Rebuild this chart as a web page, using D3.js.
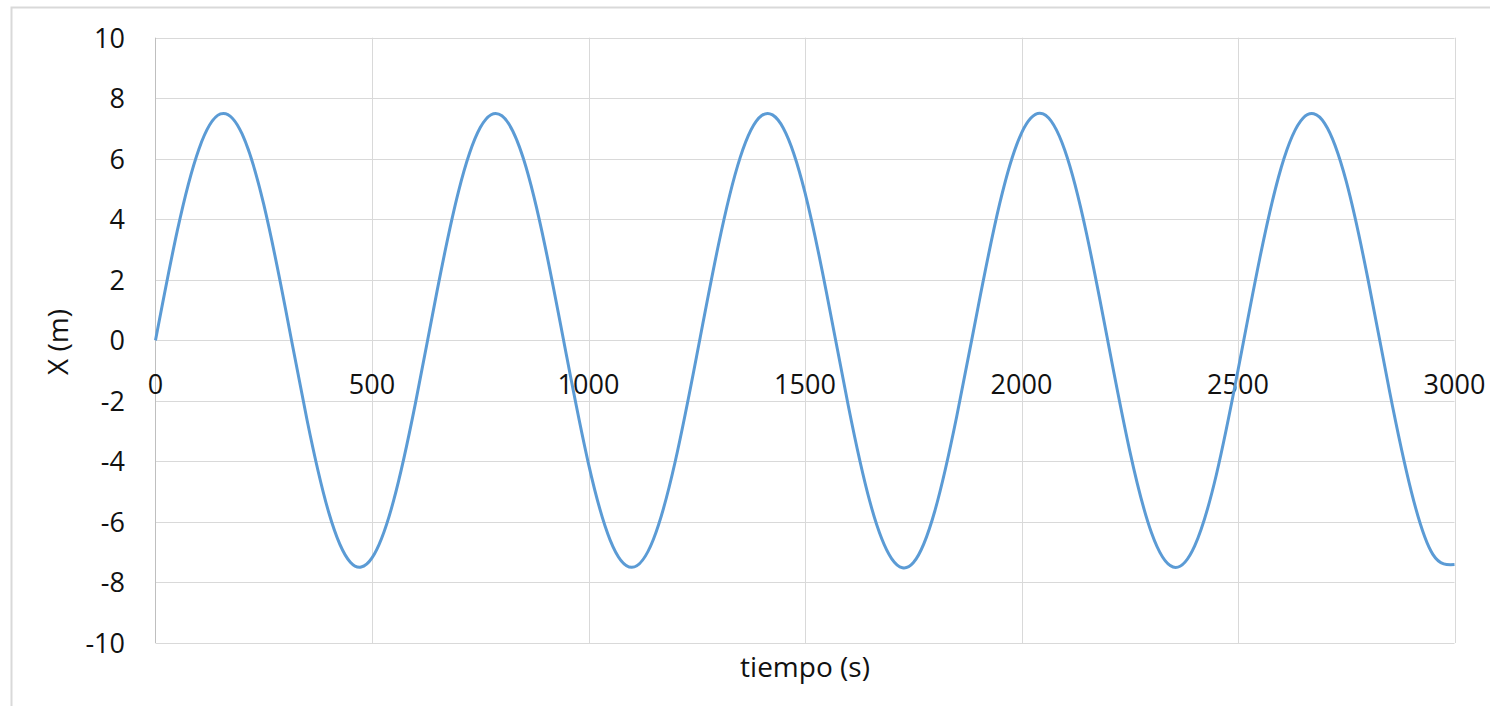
<!DOCTYPE html>
<html>
<head>
<meta charset="utf-8">
<script src="https://cdn.jsdelivr.net/npm/d3@7"></script>
<style>
  body { margin: 0; background: #fff; }
  svg { display: block; font-family: "Open Sans", sans-serif; }
</style>
</head>
<body>
<svg id="chart" width="1490" height="706"></svg>
<script>
'use strict';

// time samples (s), read every 50 s along the curve
var tiempo = d3.range(0, 3001, 50);

// X (m) at each sample
var posicion = [
   0.00,  3.60,  6.31,  7.48,  6.82,  4.49,  1.06, -2.63, -5.68, -7.33,
  -7.19, -5.29, -2.10,  1.61,  4.93,  7.03,  7.42,  5.99,  3.09, -0.56,
  -4.08, -6.60, -7.50, -6.57, -4.02, -0.50,  3.15,  6.03,  7.43,  7.01,
   4.88,  1.55, -2.16, -5.34, -7.21, -7.35, -5.63, -2.54,  1.12,  4.54,
   6.85,  7.48,  6.28,  3.54, -0.07, -3.65, -6.35, -7.49, -6.79, -4.44,
  -0.99,  2.69,  5.72,  7.34,  7.17,  5.25,  2.03, -1.68, -4.98, -7.07,
  -7.41
];

var xTicks = [0, 500, 1000, 1500, 2000, 2500, 3000];
var yTicks = [-10, -8, -6, -4, -2, 0, 2, 4, 6, 8, 10];

var svg = d3.select("#chart");

// outer chart frame
svg.append("rect")
  .attr("x", 11.5).attr("y", 7.5)
  .attr("width", 1520).attr("height", 740)
  .style("fill", "none")
  .style("stroke", "#d9d9d9")
  .style("stroke-width", 2);

var x = d3.scaleLinear().domain([0, 3000]).range([155.5, 1454.5]);
var y = d3.scaleLinear().domain([-10, 10]).range([643, 37.7]);

// gridlines
svg.append("g").selectAll("line")
  .data(yTicks)
  .join("line")
    .attr("x1", x(0)).attr("x2", x(3000))
    .attr("y1", function (d) { return Math.round(y(d)) + 0.5; })
    .attr("y2", function (d) { return Math.round(y(d)) + 0.5; })
    .style("stroke", "#d9d9d9");

svg.append("g").selectAll("line")
  .data(xTicks.slice(1))
  .join("line")
    .attr("x1", function (d) { return Math.round(x(d)) + 0.5; })
    .attr("x2", function (d) { return Math.round(x(d)) + 0.5; })
    .attr("y1", y(10)).attr("y2", y(-10))
    .style("stroke", "#d9d9d9");

// vertical axis line
svg.append("line")
  .attr("x1", 155.5).attr("x2", 155.5)
  .attr("y1", y(10)).attr("y2", y(-10))
  .style("stroke", "#bfbfbf");

// y tick labels
svg.append("g").selectAll("text")
  .data(yTicks)
  .join("text")
    .attr("x", 125)
    .attr("y", function (d) { return y(d) + 10; })
    .style("text-anchor", "end")
    .style("font-size", "27px")
    .style("fill", "#111")
    .text(function (d) { return d; });

// x tick labels, hung under the zero line
svg.append("g").selectAll("text")
  .data(xTicks)
  .join("text")
    .attr("x", function (d) { return x(d); })
    .attr("y", 394)
    .style("text-anchor", "middle")
    .style("font-size", "27px")
    .style("fill", "#111")
    .text(function (d) { return d; });

// the series
var line = d3.line()
  .x(function (d, i) { return x(tiempo[i]); })
  .y(function (d) { return y(d); })
  .curve(d3.curveNatural);

svg.append("path")
  .datum(posicion)
  .attr("d", line)
  .style("fill", "none")
  .style("stroke", "#5b9bd5")
  .style("stroke-width", 3)
  .style("stroke-linejoin", "round");

// axis titles
svg.append("text")
  .attr("x", 805).attr("y", 677)
  .style("text-anchor", "middle")
  .style("font-size", "28px")
  .style("fill", "#111")
  .text("tiempo (s)");

svg.append("text")
  .attr("transform", "translate(68,342) rotate(-90)")
  .style("text-anchor", "middle")
  .style("font-size", "28px")
  .style("fill", "#111")
  .text("X (m)");
</script>
</body>
</html>
